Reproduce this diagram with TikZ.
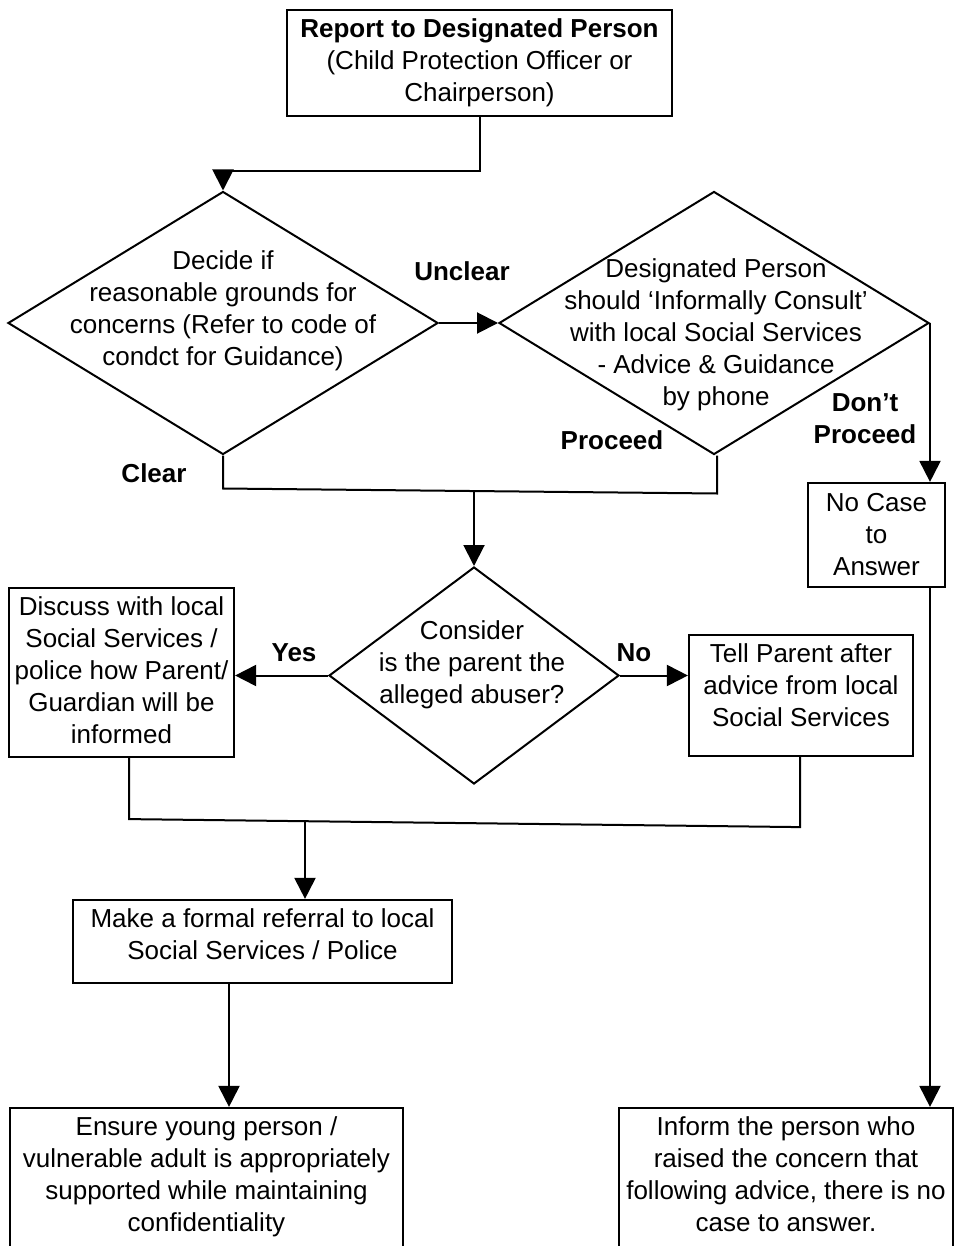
\documentclass[tikz,border=0pt]{standalone}
\usepackage{fontspec}
\setmainfont{Liberation Sans}
\usetikzlibrary{shapes.geometric,arrows.meta,calc}

\begin{document}
\begin{tikzpicture}[
  x=1pt, y=-1pt,
  txt/.style={font=\fontsize{26}{32}\selectfont, align=center, inner sep=0pt},
  lbl/.style={font=\fontsize{26}{32}\selectfont\bfseries, align=center, inner sep=0pt},
  box/.style={draw, rectangle, line width=2.2pt, inner sep=0pt},
  decision/.style={draw, diamond, line width=2pt, inner sep=0pt},
  line/.style={line width=2pt},
  arr/.style={line width=2pt, -{Triangle[length=21pt,width=21pt]}},
  ]
\useasboundingbox (0,0) rectangle (955,1246);

% boxes
\node [box, minimum width=385pt, minimum height=106pt,
  label={[txt]center:{\textbf{Report to Designated Person}\\(Child Protection Officer or\\Chairperson)}}]
  (report) at (479.5,63) {};
\node [box, minimum width=137pt, minimum height=104pt,
  label={[txt]center:{No Case\\to\\Answer}}]
  (nocase) at (876.5,535) {};
\node [box, minimum width=225pt, minimum height=169pt,
  label={[txt,yshift=2pt]center:{Discuss with local\\Social Services /\\police how Parent/\\Guardian will be\\informed}}]
  (discuss) at (121.5,672.5) {};
\node [box, minimum width=224pt, minimum height=121pt,
  label={[txt,yshift=10pt]center:{Tell Parent after\\advice from local\\Social Services}}]
  (tell) at (801,695.5) {};
\node [box, minimum width=379pt, minimum height=83pt,
  label={[txt,yshift=7pt]center:{Make a formal referral to local\\Social Services / Police}}]
  (referral) at (262.5,941.5) {};
\node [box, minimum width=393pt, minimum height=140pt,
  label={[txt,yshift=1pt]center:{Ensure young person /\\vulnerable adult is appropriately\\supported while maintaining\\confidentiality}}]
  (ensure) at (206.5,1178) {};
\node [box, minimum width=334pt, minimum height=140pt,
  label={[txt,yshift=4pt]center:{Inform the person who\\raised the concern that\\following advice, there is no\\case to answer.}}]
  (inform) at (786,1178) {};

% decisions
\node [decision, minimum width=430pt, minimum height=263pt,
  label={[txt,yshift=12.5pt]center:{Decide if\\reasonable grounds for\\concerns (Refer to code of\\condct for Guidance)}}]
  (decide) at (223,323) {};
\node [decision, minimum width=430pt, minimum height=263pt,
  label={[txt,xshift=2pt,yshift=-12pt]center:{Designated Person\\should ‘Informally Consult’\\with local Social Services\\- Advice \& Guidance\\by phone}}]
  (consult) at (714,323) {};
\node [decision, minimum width=290pt, minimum height=217pt,
  label={[txt,xshift=-2pt,yshift=10.5pt]center:{Consider\\is the parent the\\alleged abuser?}}]
  (consider) at (474,675.5) {};

% branch labels
\node [lbl] (unclear) at (462,271) {Unclear};
\node [lbl] (dontproceed) at (865,418.5) {Don’t\\Proceed};
\node [lbl] (proceed) at (612,440) {Proceed};
\node [lbl] (clear) at (154,473) {Clear};
\node [lbl] (yes) at (294,653) {Yes};
\node [lbl] (no) at (634,653) {No};

% connectors
\draw [arr] (report.south) -- ++(0,54) -| (decide.north);
\draw [arr] (decide.east) -- (consult.west);
\draw [arr] (consult.east) -- (consult.east |- nocase.north);
\draw [arr] (consult.east |- nocase.south) -- (consult.east |- inform.north);

\coordinate (join1) at (474,491);
\draw [line] (decide.south) -- ++(0,33) -- ($(consult.south)+(3,38)$) -- ++(0,-38);
\draw [arr] (join1) -- (consider.north);

\draw [arr] (consider.west) -- (consider.west -| discuss.east);
\draw [arr] (consider.east) -- (consider.east -| tell.west);

\coordinate (join2) at (305,822);
\draw [line] ([xshift=7.5pt]discuss.south) -- ++(0,61) -- ($(tell.south)+(-1,70)$) -- ++(0,-70);
\draw [arr] (join2) -- (join2 |- referral.north);
\draw [arr] ([xshift=-33.5pt]referral.south) -- ([xshift=22.5pt]ensure.north);
\end{tikzpicture}
\end{document}
